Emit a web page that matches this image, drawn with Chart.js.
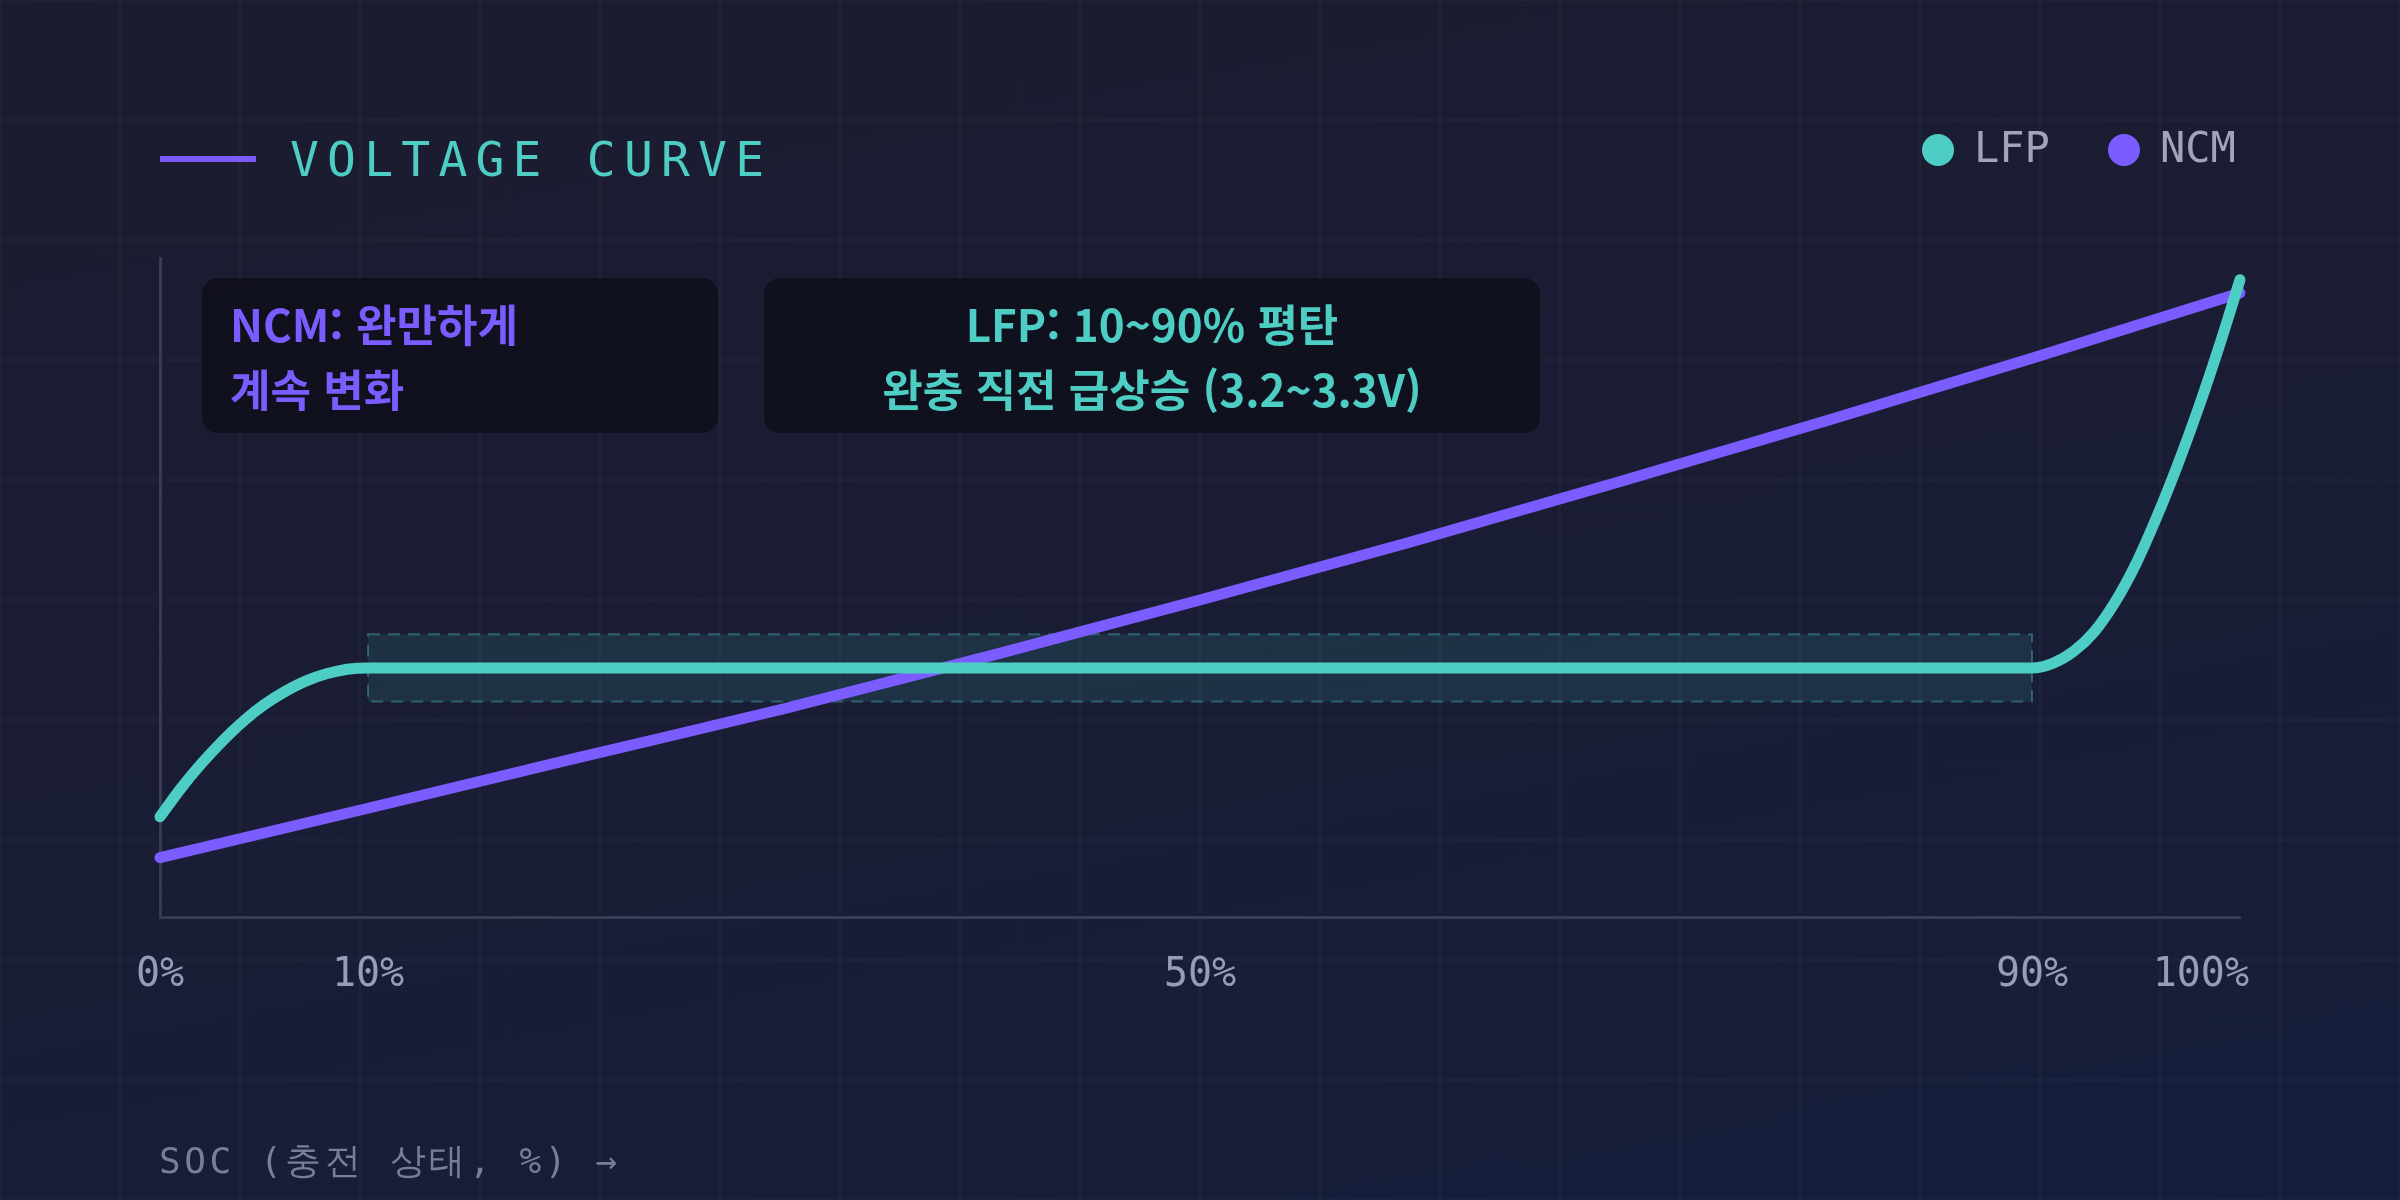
<!DOCTYPE html>
<html lang="ko">
<head>
<meta charset="utf-8">
<title>Voltage Curve</title>
<script src="https://cdn.jsdelivr.net/npm/chart.js@4.4.1/dist/chart.umd.min.js"></script>
<style>
  html, body { margin: 0; padding: 0; }
  body {
    width: 2400px; height: 1200px; overflow: hidden; position: relative;
    background: linear-gradient(170deg, #1c1c2f 0%, #191d35 55%, #161e3c 100%);
    font-family: 'DejaVu Sans Mono', monospace;
  }
  #voltChart { position: absolute; left: 0; top: 0; }
  .title-bar { position: absolute; left: 160px; top: 156px; width: 96px; height: 6px; background: #7b5cff; }
  .title {
    position: absolute; left: 290px; top: 135px; white-space: nowrap;
    font-size: 48px; line-height: 48px; letter-spacing: 8.2px; color: #4ecdc4;
  }
  .legend-dot { position: absolute; top: 134px; width: 32px; height: 32px; border-radius: 50%; }
  .legend-text { position: absolute; top: 127px; font-size: 42px; line-height: 42px; color: #a3a3bd; }
  .note {
    position: absolute; top: 278px; height: 155px; box-sizing: border-box;
    background: rgba(12, 12, 22, 0.72); border-radius: 16px;
    font-family: 'Noto Sans CJK KR', sans-serif; font-weight: 700;
    font-size: 44px; line-height: 65px; padding-top: 13px; white-space: nowrap;
  }
  .axis-name {
    position: absolute; left: 159px; top: 1143px; white-space: nowrap;
    font-size: 36px; line-height: 36px; letter-spacing: 3.6px; color: #7a7c9b;
  }
</style>
</head>
<body>
<canvas id="voltChart" width="2400" height="1200"></canvas>

<div class="title-bar"></div>
<div class="title">VOLTAGE CURVE</div>

<div class="legend-dot" style="left:1922px; background:#4ecdc4;"></div>
<div class="legend-text" style="left:1974px;">LFP</div>
<div class="legend-dot" style="left:2108px; background:#7b5cff;"></div>
<div class="legend-text" style="left:2160px;">NCM</div>

<div class="note" style="left:202px; width:516px; padding-left:28px; color:#7b5cff;">NCM: 완만하게<br>계속 변화</div>
<div class="note" style="left:764px; width:776px; text-align:center; color:#4ecdc4;">LFP: 10~90% 평탄<br>완충 직전 급상승 (3.2~3.3V)</div>

<div class="axis-name">SOC (충전 상태, %) →</div>

<script>
  // 값은 그림에서 읽은 상대 전압 (0~100, 축 눈금 없음)
  var lfpSoc   = [0, 1, 2, 3, 4, 5, 6, 7, 8, 9, 10, 20, 30, 40, 50, 60, 70, 80, 90, 91, 92, 93, 94, 95, 96, 97, 98, 99, 100];
  var lfpLevel = [15.2, 19.5, 23.3, 26.7, 29.7, 32.2, 34.2, 35.8, 36.9, 37.6, 37.8, 37.8, 37.8, 37.8, 37.8, 37.8, 37.8, 37.8, 37.8,
                  38.5, 40.3, 43.3, 47.8, 53.6, 60.7, 68.6, 77.2, 86.6, 96.7];

  var ncmSoc   = [0, 10, 20, 30, 40, 50, 60, 70, 80, 90, 100];
  var ncmLevel = [9.0, 16.5, 24.1, 31.6, 39.7, 48.1, 56.8, 65.9, 75.2, 84.8, 94.7];

  // 평탄 구간 강조 박스
  var bandSoc   = [10, 90];
  var bandLevel = [32.7, 42.9];

  var socTicks = [0, 10, 50, 90, 100];

  function toPoints(xs, ys) {
    return xs.map(function (x, i) { return { x: x, y: ys[i] }; });
  }

  var decor = {
    id: 'decor',
    beforeDraw: function (chart) {
      var ctx = chart.ctx;
      ctx.save();
      ctx.strokeStyle = 'rgba(255,255,255,0.028)';
      ctx.lineWidth = 2;
      for (var gx = 0; gx <= chart.width; gx += 120) {
        ctx.beginPath(); ctx.moveTo(gx, 0); ctx.lineTo(gx, chart.height); ctx.stroke();
      }
      for (var gy = 0; gy <= chart.height; gy += 120) {
        ctx.beginPath(); ctx.moveTo(0, gy); ctx.lineTo(chart.width, gy); ctx.stroke();
      }
      ctx.restore();
    },
    beforeDatasetsDraw: function (chart) {
      var ctx = chart.ctx, x = chart.scales.x, y = chart.scales.y;
      var l = x.getPixelForValue(bandSoc[0]), r = x.getPixelForValue(bandSoc[1]);
      var t = y.getPixelForValue(bandLevel[1]), b = y.getPixelForValue(bandLevel[0]);
      ctx.save();
      ctx.fillStyle = 'rgba(78,205,196,0.12)';
      ctx.fillRect(l, t, r - l, b - t);
      ctx.setLineDash([12, 8]);
      ctx.strokeStyle = 'rgba(78,205,196,0.36)';
      ctx.lineWidth = 2;
      ctx.strokeRect(l, t, r - l, b - t);
      ctx.restore();
    },
    afterDraw: function (chart) {
      var ctx = chart.ctx, x = chart.scales.x;
      ctx.save();
      ctx.font = '40px "DejaVu Sans Mono", monospace';
      ctx.fillStyle = '#9a9bb8';
      ctx.textBaseline = 'alphabetic';
      socTicks.forEach(function (v, i) {
        var px = x.getPixelForValue(v);
        var last = i === socTicks.length - 1;
        ctx.textAlign = last ? 'right' : 'center';
        ctx.fillText(v + '%', last ? px + 9 : px, chart.chartArea.bottom + 69);
      });
      ctx.restore();
    }
  };

  var ctxVolt = document.getElementById('voltChart').getContext('2d');
  var voltChart = new Chart(ctxVolt, {
    type: 'line',
    data: {
      datasets: [{
        label: 'LFP',
        data: toPoints(lfpSoc, lfpLevel),
        borderColor: '#4ecdc4',
        borderWidth: 11,
        borderCapStyle: 'round',
        borderJoinStyle: 'round',
        cubicInterpolationMode: 'monotone',
        pointRadius: 0,
        clip: false
      }, {
        label: 'NCM',
        data: toPoints(ncmSoc, ncmLevel),
        borderColor: '#7b5cff',
        borderWidth: 11,
        borderCapStyle: 'round',
        borderJoinStyle: 'round',
        cubicInterpolationMode: 'monotone',
        pointRadius: 0,
        clip: false
      }]
    },
    options: {
      responsive: false,
      animation: false,
      layout: { padding: { left: 160, right: 160, top: 258, bottom: 283 } },
      plugins: { legend: { display: false }, tooltip: { enabled: false } },
      scales: {
        x: {
          type: 'linear', min: 0, max: 100,
          grid: { display: false, drawTicks: false },
          ticks: { display: false },
          border: { display: true, color: '#383b53', width: 3 }
        },
        y: {
          type: 'linear', min: 0, max: 100,
          grid: { display: false, drawTicks: false },
          ticks: { display: false },
          border: { display: true, color: '#383b53', width: 3 }
        }
      }
    },
    plugins: [decor]
  });
</script>
</body>
</html>
